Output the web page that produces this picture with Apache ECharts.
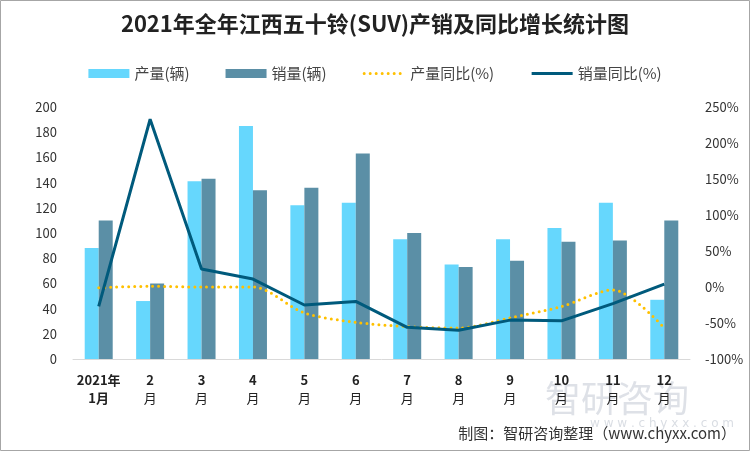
<!DOCTYPE html>
<html><head><meta charset="utf-8">
<script src="https://cdn.jsdelivr.net/npm/echarts@6/dist/echarts.min.js"></script>
<style>html,body{margin:0;padding:0;background:#fff}#c{width:750px;height:451px}</style>
</head><body><div id="c"></div>
<script>
const categories = ['2021年\n1月','2\n月','3\n月','4\n月','5\n月','6\n月','7\n月','8\n月','9\n月','10\n月','11\n月','12\n月'];
const production = [88, 46, 141, 185, 122, 124, 95, 75, 95, 104, 124, 47];
const sales = [110, 60, 143, 134, 136, 163, 100, 73, 78, 93, 94, 110];
const productionYoY = [-1, 1, 0, 0, -36, -49, -55, -57, -43, -27, -4, -57];
const salesYoY = [-27, 233, 25, 11, -25, -20, -56, -60, -46, -47, -23, 4];
const leftTicks = [0, 200, 20];
const rightTicks = [-100, 250, 50];

const chart = echarts.init(document.getElementById('c'), null, {renderer:'canvas'});
const font = '"Noto Sans CJK SC", "Liberation Sans", sans-serif';
const dotted = {color:'#ffc000', width:3, type:[0,6], cap:'round'};
const solid = {color:'#005a7c', width:3};
chart.setOption({
  animation:false,
  backgroundColor:'#fff',
  title:{text:'2021年全年江西五十铃(SUV)产销及同比增长统计图', left:'center', top:8,
    textStyle:{fontFamily:'"Noto Sans CJK SC", serif', fontSize:22, fontWeight:'bold', color:'#222'}},
  legend:{top:61, left:'center', itemWidth:41, itemHeight:9, itemGap:36,
    textStyle:{fontFamily:font, fontSize:15, color:'#444'},
    data:[{name:'产量(辆)', icon:'rect'},{name:'销量(辆)', icon:'rect'},
          {name:'产量同比(%)', itemStyle:{opacity:0}, lineStyle:dotted},
          {name:'销量同比(%)', itemStyle:{opacity:0}, lineStyle:solid}]},
  grid:{left:73, right:60, top:107, bottom:92, containLabel:false},
  xAxis:{type:'category', data:categories,
    axisLine:{lineStyle:{color:'#d9d9d9', width:1}}, axisTick:{show:false},
    axisLabel:{interval:0, margin:12, lineHeight:18,
      formatter:(v,i)=>{const p=v.split('\n'); return i===0?'{b|'+p[0]+'}\n{b|'+p[1]+'}':'{b|'+p[0]+'}\n{n|'+p[1]+'}';},
      rich:{b:{fontFamily:font, fontSize:13, fontWeight:'bold', color:'#222', lineHeight:18},
            n:{fontFamily:font, fontSize:13, color:'#222', lineHeight:18}}}},
  yAxis:[
    {type:'value', min:leftTicks[0], max:leftTicks[1], interval:leftTicks[2],
     splitLine:{show:false}, axisLine:{show:false}, axisTick:{show:false},
     axisLabel:{fontFamily:font, fontSize:13, color:'#333', margin:16}},
    {type:'value', min:rightTicks[0], max:rightTicks[1], interval:rightTicks[2],
     splitLine:{show:false}, axisLine:{show:false}, axisTick:{show:false},
     axisLabel:{fontFamily:font, fontSize:13, color:'#333', margin:15, formatter:'{value}%'}}
  ],
  series:[
    {name:'产量(辆)', type:'bar', data:production, barWidth:14, barGap:'0%', itemStyle:{color:'#66d7fd'}},
    {name:'销量(辆)', type:'bar', data:sales, barWidth:14, itemStyle:{color:'#5b8fa6'}},
    {name:'产量同比(%)', type:'line', yAxisIndex:1, data:productionYoY, smooth:0.3, symbol:'none',
     lineStyle:dotted, itemStyle:{color:'#ffc000'}},
    {name:'销量同比(%)', type:'line', yAxisIndex:1, data:salesYoY, symbol:'none',
     lineStyle:solid, itemStyle:{color:'#005a7c'}}
  ],
  graphic:[
    {type:'text', left:545, top:380, z:-1, style:{text:'智研咨询', font:'36px "Noto Sans CJK SC"', fill:'rgba(160,170,185,0.35)'}},
    {type:'text', left:590, top:418, z:-1, style:{text:'w w w . c h y x x . c o m', font:'12px "DejaVu Sans"', fill:'rgba(160,170,185,0.4)'}},
    {type:'text', right:14, top:426, style:{text:'制图：智研咨询整理（www.chyxx.com）', font:'15px "Noto Sans CJK SC", serif', fill:'#333'}},
    {type:'rect', shape:{x:0.5, y:0.5, width:749, height:450}, style:{fill:null, stroke:'#a6a6a6', lineWidth:1}, silent:true}
  ]
});
</script></body></html>
